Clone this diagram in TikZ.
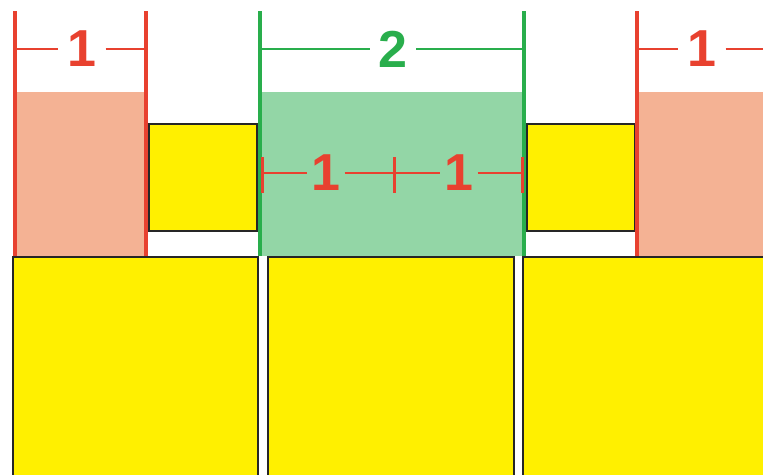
\documentclass[tikz,border=0pt]{standalone}
\usepackage{fontspec}
\setmainfont{Liberation Sans}
\usetikzlibrary{positioning,calc}
\definecolor{dimred}{RGB}{232,65,47}
\definecolor{salmon}{RGB}{244,178,148}
\definecolor{dimgreen}{RGB}{41,174,76}
\definecolor{palegreen}{RGB}{147,214,166}
\definecolor{boxyellow}{RGB}{255,240,0}
\begin{document}
\begin{tikzpicture}[x=1pt,y=-1pt,
  block/.style={draw=black!85, line width=2.5pt, fill=boxyellow},
  redline/.style={draw=dimred, line width=4.5pt},
  greenline/.style={draw=dimgreen, line width=4.5pt},
  reddim/.style={draw=dimred, line width=2.5pt},
  greendim/.style={draw=dimgreen, line width=2.5pt},
  num/.style={font=\fontsize{52}{52}\selectfont\bfseries, inner xsep=9pt, inner ysep=0pt}]
\useasboundingbox (0,0) rectangle (763,474);
\clip (0,0) rectangle (763,474);

% shaded gaps
\fill[salmon] (15,92) rectangle (146,256);
\fill[palegreen] (260,92) rectangle (524,256);
\fill[salmon] (637,92) rectangle (780,256);

% small blocks
\draw[block] (149,124) rectangle (257,231);
\draw[block] (527,124) rectangle (635,231);

% extension lines
\draw[redline] (15,11) -- (15,256);
\draw[redline] (146,11) -- (146,256);
\draw[greenline] (260,11) -- (260,256);
\draw[greenline] (524,11) -- (524,256);
\draw[redline] (637,11) -- (637,256);

% top dimensions
\node[num, text=dimred] (oneleft) at (82,49) {1};
\node[num, text=dimgreen, inner xsep=8.5pt] (two) at (393,49) {2};
\node[num, text=dimred] (oneright) at (702,49) {1};
\draw[reddim] (15,49) -- (oneleft);
\draw[reddim] (oneleft) -- (146,49);
\draw[greendim] (260,49) -- (two);
\draw[greendim] (two) -- (524,49);
\draw[reddim] (637,49) -- (oneright);
\draw[reddim] (oneright) -- (780,49);

% inner dimension
\node[num, text=dimred, inner xsep=4pt] (onea) at (326,173) {1};
\node[num, text=dimred, inner xsep=4pt] (oneb) at (459,173) {1};
\coordinate (tickmid) at (394,173);
\draw[reddim] (262,173) -- (onea);
\draw[reddim] (onea) -- (tickmid) -- (oneb);
\draw[reddim] (oneb) -- (522,173);
\draw[reddim, line width=3pt] (262,157) -- (262,193);
\draw[reddim, line width=3pt] (tickmid) ++(0,-16) -- ++(0,36);
\draw[reddim, line width=3pt] (522,157) -- (522,193);

% large blocks
\draw[block] (13,257) rectangle (258,500);
\draw[block] (268,257) rectangle (514,500);
\draw[block] (523,257) rectangle (800,500);
\end{tikzpicture}
\end{document}
